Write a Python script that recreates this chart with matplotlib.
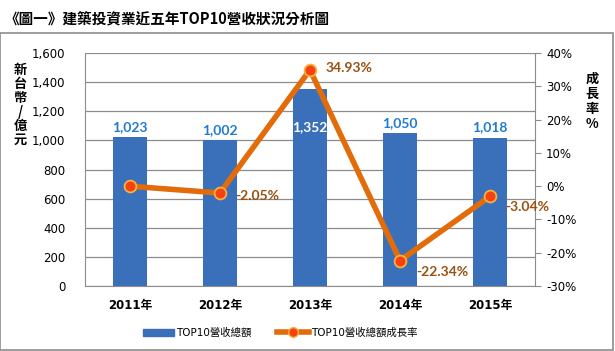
import matplotlib
matplotlib.use("Agg")
import matplotlib.pyplot as plt
from matplotlib.patches import Rectangle
from matplotlib.lines import Line2D
from matplotlib.ticker import FuncFormatter

plt.rcParams['font.family'] = ['DejaVu Sans', 'Noto Sans CJK TC']

years = ['2011年', '2012年', '2013年', '2014年', '2015年']
revenue = [1023, 1002, 1352, 1050, 1018]
growth = [0.0, -2.05, 34.93, -22.34, -3.04]
growth_labels = ['', '-2.05%', '34.93%', '-22.34%', '-3.04%']

bar_color = '#3A70BA'
line_color = '#E36C0A'
label_blue = '#1F7BD1'
label_brown = '#9C4F0E'

fig = plt.figure(figsize=(6.15, 3.51), dpi=100)
fig.patches.append(Rectangle((0.0, 0.004), 0.997, 0.902, transform=fig.transFigure,
                             fill=False, edgecolor='#8C8C8C', linewidth=1.2))
fig.text(0.008, 0.945, '《圖一》建築投資業近五年TOP10營收狀況分析圖', fontsize=10.5,
         fontweight='bold', family=['Noto Sans CJK TC'], va='center')

ax = fig.add_axes([0.138, 0.185, 0.732, 0.664])
x = list(range(len(years)))
ax.bar(x, revenue, width=0.38, color=bar_color, zorder=2)
ax.set_ylim(0, 1600)
ax.set_yticks(range(0, 1601, 200))
ax.yaxis.set_major_formatter(FuncFormatter(lambda v, p: f'{int(v):,}'))
ax.set_xlim(-0.5, 4.5)
ax.set_xticks(x)
ax.set_xticklabels(years, fontweight='bold', fontsize=8.5, family=['DejaVu Sans', 'Noto Sans CJK TC'])
ax.tick_params(axis='x', length=0, pad=9)
ax.tick_params(axis='y', length=0, labelsize=8.5, pad=14)
ax.grid(axis='y', color='#8C8C8C', linewidth=0.9, zorder=0)
for s in ['top', 'right']:
    ax.spines[s].set_visible(False)
ax.spines['left'].set_color('#8C8C8C')
ax.spines['bottom'].set_color('#8C8C8C')

ax2 = ax.twinx()
ax2.plot(x, growth, color=line_color, linewidth=4, zorder=3,
         marker='o', markersize=8.5, markerfacecolor='#F5420F',
         markeredgecolor='#F8B040', markeredgewidth=1.3)
ax2.set_ylim(-30, 40)
ax2.set_yticks(range(-30, 41, 10))
ax2.yaxis.set_major_formatter(FuncFormatter(lambda v, p: f'{int(v)}%'))
ax2.tick_params(axis='y', length=4, color='#8C8C8C', labelsize=8.5, pad=4)
for s in ['top', 'left', 'bottom']:
    ax2.spines[s].set_visible(False)
ax2.spines['right'].set_color('#8C8C8C')

# bar value labels (drawn on ax2 so they stay above the line)
for i, v in enumerate(revenue):
    if v > 1300:
        ax2.text(i, v - 260, f'{v:,}', ha='center', va='center', color='white',
                 fontsize=10, fontweight='bold', family='Lato', zorder=5,
                 transform=ax.transData)
    else:
        ax2.text(i, v + 30, f'{v:,}', ha='center', va='bottom', color=label_blue,
                 fontsize=10, fontweight='bold', family='Lato', zorder=5,
                 transform=ax.transData)

offsets = [(0, 0), (11, -2), (11, 1), (12, -8), (11, -8)]
for i, (g, lab) in enumerate(zip(growth, growth_labels)):
    if lab:
        ax2.annotate(lab, (i, g), xytext=offsets[i], textcoords='offset points',
                     ha='left', va='center', color=label_brown, fontsize=10,
                     fontweight='bold', family='Lato', zorder=6)

fig.text(0.033, 0.70, '新\n台\n幣\n/\n億\n元', fontsize=9.5, fontweight='bold',
         family=['Noto Sans CJK TC'], ha='center', va='center', linespacing=1.0)
fig.text(0.963, 0.71, '成\n長\n率\n%', fontsize=9.5, fontweight='bold',
         family=['Noto Sans CJK TC', 'DejaVu Sans'], ha='center', va='center', linespacing=1.1)

handles = [Rectangle((0, 0), 1, 1, color=bar_color),
           Line2D([], [], color=line_color, linewidth=4, marker='o', markersize=7,
                  markerfacecolor='#F5420F', markeredgecolor='#F8B040')]
fig.legend(handles, ['TOP10營收總額', 'TOP10營收總額成長率'], loc='center',
           bbox_to_anchor=(0.455, 0.052), ncol=2, frameon=False,
           prop={'family': ['DejaVu Sans', 'Noto Sans CJK TC'], 'size': 7.5},
           handlelength=3.0, handletextpad=0.2, columnspacing=2.5)

fig.savefig('out.png', dpi=100)
